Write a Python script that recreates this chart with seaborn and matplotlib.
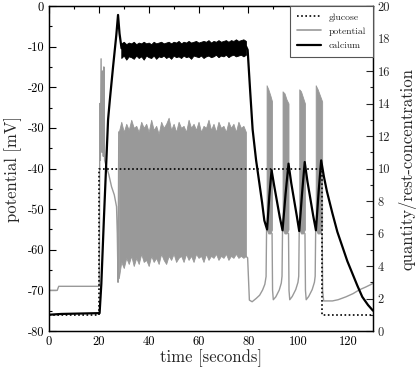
import numpy as np
import pandas as pd
import seaborn as sns
import matplotlib.pyplot as plt
from matplotlib.lines import Line2D
from matplotlib.ticker import MultipleLocator

# glucose, right axis (quantity / rest-concentration)
glu_t = [0, 20.1, 20.1, 109.6, 109.6, 130]
glu_v = [1, 1, 10, 10, 1, 1]

# calcium slow trace, right axis
ca_t = [0, 5, 20.3, 21.0, 22.0, 23.7, 24.4, 25.7, 27.0, 27.7, 28.3, 29.1,
        79.1, 79.7, 80.7, 81.7, 83.1, 84.4, 85.5, 86.4, 87.5,
        88.4, 89.3, 90.4, 91.5, 92.6, 93.7,
        94.9, 96.1, 97.2, 98.3, 99.4, 100.4,
        101.5, 102.6, 103.7, 104.8, 106.0, 107.1,
        108.2, 109.2, 110.3, 111.5, 113.7, 115.7, 117.7, 119.7, 121.7,
        123.7, 125.7, 128.0, 130]
ca_v = [1.0, 1.05, 1.1, 2.9, 6.8, 13.0, 14.2, 16.25, 18.2, 19.45, 18.3, 17.4,
        17.5, 17.3, 14.8, 12.4, 10.5, 9.1, 7.9, 6.8, 6.25,
        8.3, 9.9, 8.9, 7.95, 7.0, 6.2,
        8.4, 10.3, 9.1, 8.1, 7.1, 6.15,
        8.4, 10.4, 9.2, 8.2, 7.1, 6.2,
        8.6, 10.5, 9.5, 8.6, 7.25, 6.1, 5.2, 4.3, 3.55,
        2.8, 2.1, 1.6, 1.25]

# calcium plateau, noisy envelope (29 s .. 79 s)
ca_band_t = np.arange(29, 80)
ca_up = [17.7, 17.8, 17.65, 17.75, 17.7, 17.8, 17.65, 17.75, 17.7, 17.8,
         17.7, 17.75, 17.65, 17.8, 17.7, 17.75, 17.8, 17.7, 17.75, 17.8,
         17.7, 17.8, 17.75, 17.85, 17.7, 17.8, 17.75, 17.85, 17.75, 17.8,
         17.85, 17.75, 17.8, 17.85, 17.8, 17.9, 17.75, 17.85, 17.8, 17.9,
         17.8, 17.85, 17.9, 17.8, 17.9, 17.85, 17.95, 17.85, 17.9, 17.95, 17.85]
ca_lo = [16.8, 16.95, 16.7, 16.9, 16.85, 16.75, 16.95, 16.8, 16.9, 16.7,
         16.95, 16.85, 16.8, 16.95, 16.75, 16.9, 16.85, 16.95, 16.8, 16.9,
         16.75, 16.95, 16.85, 16.9, 16.8, 16.95, 16.85, 16.9, 16.75, 16.95,
         16.9, 16.85, 16.95, 16.8, 16.9, 16.95, 16.85, 16.9, 17.0, 16.85,
         16.95, 16.9, 17.0, 16.85, 16.95, 17.0, 16.9, 16.95, 17.0, 16.9, 17.0]

# membrane potential slow trace, left axis [mV]
pot_t = [0, 3.3, 3.9, 20.2, 20.4, 20.6, 20.9, 21.2, 21.5, 21.8, 22.0, 22.3,
         23.0, 24.0, 25.1, 26.2, 27.1, 27.4, 27.7, 28.0,
         79.7, 80.4, 81.5, 83.1, 84.5, 85.7, 86.6, 87.1, 87.3,
         89.5, 89.7, 90.0, 91.0, 92.4, 93.2, 93.5, 93.7,
         96.1, 96.3, 96.6, 97.6, 99.0, 99.9, 100.2, 100.4,
         102.7, 102.9, 103.2, 104.2, 105.6, 106.5, 106.8, 107.0,
         109.6, 109.8, 110.2, 113.7, 116.0, 119.1, 122.0, 124.4, 127.0, 130]
pot_v = [-70, -70, -69, -69, -24, -38, -13, -36, -16, -37, -15, -38,
         -39.5, -41.5, -44.5, -46.5, -49.4, -56, -68, -31,
         -62, -72.4, -72.8, -72, -71.2, -69.9, -68.5, -66.6, -55,
         -56, -70, -72.3, -71.6, -69.9, -68.2, -66.5, -55,
         -56, -70, -72.3, -71.5, -69.8, -68, -66.5, -55,
         -56, -70, -72.3, -71.5, -69.8, -68, -66.5, -55,
         -56, -70, -72.6, -72.6, -72.3, -71.6, -70.8, -69.9, -69.2, -68.3]

# fast spiking envelope (28 s .. 79 s)
pot_band_t = np.arange(28, 80)
pot_up = [-31, -28.5, -31, -29, -30.5, -28, -30, -29.5, -31, -28.5,
          -30, -29, -31, -28, -30.5, -29.5, -31.5, -28.5, -30, -29,
          -27.5, -30.5, -29, -31, -28.5, -30, -29.5, -31, -28, -30,
          -29, -30.5, -28.5, -31, -29.5, -30, -28, -30.5, -29, -31,
          -28.5, -30, -29.5, -31, -28.5, -30, -29, -31, -28.5, -30,
          -29.5, -31]
pot_lo = [-67, -63, -64.5, -62, -63.5, -61.5, -64, -62, -63.5, -61,
          -63, -62.5, -64, -61.5, -63, -62, -63.5, -61, -62.5, -63.5,
          -61.5, -62.5, -61, -63, -62, -61.5, -63, -61, -62.5, -61.5,
          -63, -61, -62, -61.5, -63, -61, -62.5, -61.5, -62, -61,
          -62.5, -61.5, -62, -61, -62.5, -61.5, -62, -61, -62, -61.5,
          -62, -61.5]

# bursts after glucose plateau ends
burst_t = [[87.3, 88.0, 88.8, 89.5], [93.7, 94.5, 95.3, 96.1],
           [100.4, 101.1, 101.9, 102.7], [107.0, 107.8, 108.7, 109.6]]
burst_up = [[-19.5, -20.5, -22, -23.5], [-21, -21.5, -23, -24],
            [-20.5, -21, -22.5, -24], [-19.5, -20.5, -22, -23.5]]
burst_lo = [[-55, -56, -56, -55]] * 4

sns.set_style("white")
plt.rcParams["font.family"] = "cmr10"
plt.rcParams["axes.unicode_minus"] = False
plt.rcParams["mathtext.fontset"] = "cm"

gray = "#999999"

fig = plt.figure(figsize=(4.19, 3.71), dpi=100)
ax = fig.add_axes([49 / 419, 1 - 331 / 371, 324 / 419, 325 / 371])
ax2 = ax.twinx()

pot = pd.DataFrame({"t": pot_t, "v": pot_v})
sns.lineplot(data=pot, x="t", y="v", ax=ax, color=gray, lw=1.0,
             estimator=None, sort=False)
ax.fill_between(pot_band_t, pot_lo, pot_up, color=gray, lw=0.6, edgecolor=gray)
for bt, bu, bl in zip(burst_t, burst_up, burst_lo):
    ax.fill_between(bt, bl, bu, color=gray, lw=0.6, edgecolor=gray)

glu = pd.DataFrame({"t": glu_t, "v": glu_v})
sns.lineplot(data=glu, x="t", y="v", ax=ax2, color="black", lw=1.2,
             linestyle=(0, (1, 1.5)), estimator=None, sort=False)
ca = pd.DataFrame({"t": ca_t, "v": ca_v})
sns.lineplot(data=ca, x="t", y="v", ax=ax2, color="black", lw=1.6,
             estimator=None, sort=False)
ax2.fill_between(ca_band_t, ca_lo, ca_up, color="black", lw=0.6, edgecolor="black")

ax.set_xlim(0, 130)
ax.set_ylim(-80, 0)
ax2.set_ylim(0, 20)

ax.xaxis.set_major_locator(MultipleLocator(20))
ax.xaxis.set_minor_locator(MultipleLocator(10))
ax.yaxis.set_major_locator(MultipleLocator(10))
ax.yaxis.set_minor_locator(MultipleLocator(5))
ax2.yaxis.set_major_locator(MultipleLocator(2))
ax2.yaxis.set_minor_locator(MultipleLocator(1))

ax.tick_params(which="both", direction="in", top=True, right=False,
               labelsize=9, colors="black")
ax.tick_params(which="major", length=5, width=0.8)
ax.tick_params(which="minor", length=2.5, width=0.8)
ax2.tick_params(which="both", direction="in", labelsize=9)
ax2.tick_params(which="major", length=5, width=0.8)
ax2.tick_params(which="minor", length=2.5, width=0.8)

for a in (ax, ax2):
    for s in a.spines.values():
        s.set_linewidth(0.9)
        s.set_color("black")

ax.set_xlabel("time [seconds]", fontsize=12, labelpad=1)
ax.set_ylabel("potential [mV]", fontsize=12, labelpad=4)
ax2.set_ylabel("quantity/rest-concentration", fontsize=12, labelpad=6)

handles = [Line2D([], [], color="black", lw=1.2, linestyle=(0, (1, 1.5))),
           Line2D([], [], color=gray, lw=1.2),
           Line2D([], [], color="black", lw=1.6)]
leg = ax2.legend(handles, ["glucose", "potential", "calcium"], loc="upper right",
                 fontsize=7, frameon=True, fancybox=False, framealpha=1,
                 edgecolor="#555555", borderaxespad=0.0, handlelength=2.5,
                 labelspacing=0.55, borderpad=0.7)
leg.get_frame().set_linewidth(0.8)

fig.savefig("out.png", dpi=100)
